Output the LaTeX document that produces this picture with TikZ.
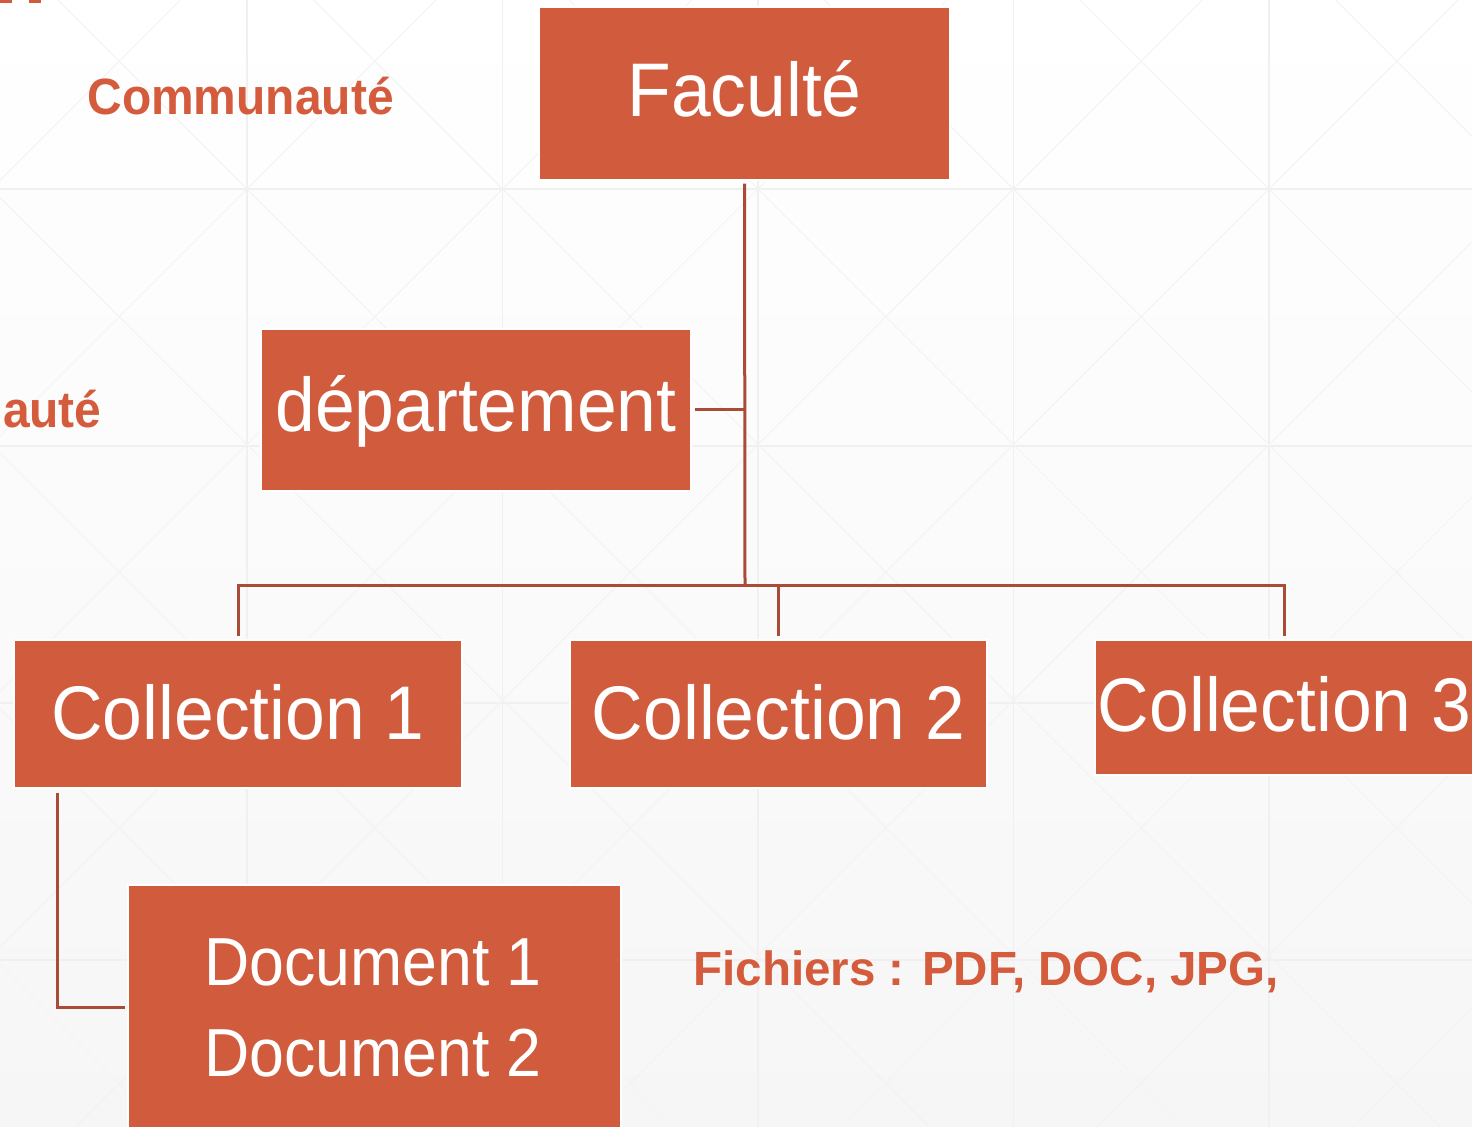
\documentclass[tikz,border=0pt]{standalone}
\usepackage{graphicx}
\usepackage{fontspec}
\setmainfont{Liberation Sans}
\definecolor{boxc}{HTML}{D15B3D}
\definecolor{txtc}{HTML}{D45B3C}
\definecolor{connc}{HTML}{A94B36}
\definecolor{gridc}{HTML}{F0F0F0}
\newcommand\hsqa[1]{\scalebox{0.94}[1]{#1}}
\newcommand\hsqb[1]{\scalebox{0.92}[1]{#1}}
\newcommand\hsqc[1]{\scalebox{0.94}[1]{#1}}
\newcommand\hsqd[1]{\scalebox{0.99}[1]{#1}}
\tikzset{
  orgbox/.style={fill=boxc, draw=white, line width=0.75pt, inner sep=0pt,
    text=white, font=\fontsize{38}{42}\selectfont, text depth=0pt},
  doctext/.style={inner sep=0pt, text=white, font=\fontsize{34}{38}\selectfont, anchor=base},
  lbl/.style={inner sep=0pt, text=txtc, font=\bfseries},
  conn/.style={draw=connc, line width=1.5pt},
  gridln/.style={draw=gridc, line width=0.6pt},
  diagln/.style={draw=gridc!80!white, line width=0.5pt}
}
\begin{document}
\begin{tikzpicture}[x=0.5pt, y=-0.5pt]
\useasboundingbox (0,0) rectangle (1472,1127);
\clip (0,0) rectangle (1472,1127);
% background
\begin{scope}[y=0.5pt]
  \shade[top color=white, middle color=black!1, bottom color=black!3.5] (0,0) rectangle (1472,-1127);
\end{scope}
\foreach \k in {0,...,6} \draw[gridln] ({-8.5+255.5*\k},0) -- ({-8.5+255.5*\k},1127);
\foreach \k in {0,...,5} \draw[gridln] (0,{-68+257*\k}) -- (1472,{-68+257*\k});
\foreach \k in {-6,...,6} \draw[diagln] ({58+255.5*\k-100},-100) -- ({58+255.5*\k+1300},1300);
\foreach \k in {-2,...,10} \draw[diagln] ({436+255.5*\k+100},-100) -- ({436+255.5*\k-1300},1300);
% small marks at top left
\fill[boxc] (0,0) rectangle (12,3);
\fill[boxc] (29,0) rectangle (41,3);

% boxes
\node[orgbox, minimum width=205.5pt, minimum height=86.5pt, text height=23.5pt] (fac) at (744.5,93.5) {\hsqa{Faculté}};
\node[orgbox, minimum width=215pt, minimum height=81pt, text height=22pt] (dept) at (476,410) {\hsqa{département}};
\node[orgbox, minimum width=224pt, minimum height=74pt, text height=26pt] (c1) at (238,714) {\hsqa{Collection 1}};
\node[orgbox, minimum width=208.5pt, minimum height=74pt, text height=26pt] (c2) at (778.5,714) {\hsqa{Collection 2}};
\node[orgbox, minimum width=189.5pt, minimum height=67.5pt, text height=24.5pt] (c3) at (1284.5,707.5) {\hsqa{Collection 3}};
\node[orgbox, minimum width=246.5pt, minimum height=122pt] (doc) at (374.5,1007) {};
\node[doctext] (doc1) at (373,985) {\hsqb{Document 1}};
\node[doctext] (doc2) at (373,1076) {\hsqb{Document 2}};

% labels
\node[lbl, font=\bfseries\fontsize{25.5}{28}\selectfont, anchor=base west] (comm) at (87,115) {\hsqc{Communauté}};
\node[lbl, font=\bfseries\fontsize{25.5}{28}\selectfont, anchor=base east] (comm2) at (102,428) {\hsqc{Communauté}};
\node[lbl, font=\bfseries\fontsize{24}{27}\selectfont, anchor=base west] (fich) at (693,985) {\hsqd{Fichiers : PDF, DOC, JPG,}};

% connectors
\coordinate (bus) at (745,586);
\draw[conn, shorten <=1.5pt] (fac.south) -- (bus);
\draw[conn, shorten <=1.5pt] (dept.east) -- (dept.east -| bus);
\draw[conn, shorten <=1.5pt, shorten >=1.5pt] (c1.north) |- (bus) -| (c3.north);
\draw[conn, shorten >=1.5pt] (c2.north |- bus) -- (c2.north);
\draw[conn, shorten <=2pt, shorten >=1pt] ([xshift=22pt]c1.south west) |- (doc.west);
\end{tikzpicture}
\end{document}
